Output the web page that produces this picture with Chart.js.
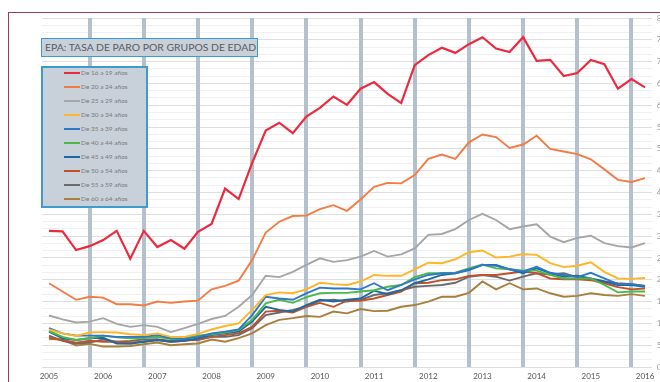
<!DOCTYPE html>
<html lang="es">
<head>
<meta charset="UTF-8">
<title>EPA: tasa de paro por grupos de edad</title>
<script src="https://cdn.jsdelivr.net/npm/chart.js"></script>
<style>
  html, body { margin: 0; padding: 0; overflow: hidden; background: #fff; }
  body { width: 660px; height: 382px; position: relative; font-family: Lato, "Open Sans", sans-serif; }
  #frame {
    position: absolute; left: 8px; top: 12px; width: 700px; height: 400px;
    border-top: 1.5px solid #9a3c5c; border-left: 1.5px solid #9a3c5c;
  }
  #wrap { position: absolute; left: 0; top: 0; width: 690px; height: 382px; }
  .box { position: absolute; background: #c8d0da; border: 1.5px solid #3d9bd0; box-sizing: border-box; }
  #title {
    left: 41px; top: 38px; width: 217px; height: 19px;
    font-size: 10.4px; color: #5a5a5a; line-height: 16px; padding-left: 3px; white-space: nowrap;
  }
  #legend { left: 41px; top: 66px; width: 107px; height: 142px; border-width: 2px; }
  .item { position: absolute; left: 0; width: 100px; height: 10px; font-size: 6.5px; color: #7a7a7a; line-height: 10px; white-space: nowrap; }
  .item i { position: absolute; left: 21px; top: 4px; width: 16px; height: 2px; }
  .item span { position: absolute; left: 38px; top: 0; }
</style>
</head>
<body>
  <div id="frame"></div>
  <div id="wrap"><canvas id="chart" width="690" height="382"></canvas></div>
  <div id="title" class="box">EPA: TASA DE PARO POR GRUPOS DE EDAD</div>
  <div id="legend" class="box"></div>

<script>
// Trimestres 2005 T1 .. 2016 T1
const years = ['2005', '2006', '2007', '2008', '2009', '2010', '2011', '2012', '2013', '2014', '2015', '2016'];
const quarterNames = ['T1', 'T2', 'T3', 'T4'];

const groupNames = [
  'De 16 a 19 años', 'De 20 a 24 años', 'De 25 a 29 años', 'De 30 a 34 años', 'De 35 a 39 años',
  'De 40 a 44 años', 'De 45 a 49 años', 'De 50 a 54 años', 'De 55 a 59 años', 'De 60 a 64 años'
];
const groupColors = [
  '#ec2a3f', '#f47c43', '#a6a6a6', '#ffb526', '#2f78c8',
  '#4cb84a', '#1e6aa0', '#c0512b', '#6b6b6b', '#a7803b'
];

// tasa de paro (%)
const paro16a19 = [31.2,31.1,26.8,27.7,29.1,31.2,24.8,31.2,27.5,29.1,27.1,31.0,32.8,40.9,38.5,46.8,54.2,56.0,53.6,57.4,59.4,62.0,60.1,63.8,65.3,62.6,60.5,69.2,71.5,73.2,72.0,74.0,75.6,73.0,72.2,75.6,70.2,70.4,66.7,67.4,70.4,69.4,63.8,66.0,64.1];
const paro20a24 = [19.2,17.3,15.4,16.1,15.9,14.4,14.4,14.1,15.0,14.7,15.0,15.2,17.8,18.6,19.8,24.5,30.8,33.3,34.6,34.7,36.2,37.1,35.8,38.4,41.3,42.2,42.1,44.0,47.7,48.7,47.7,51.5,53.3,52.7,50.2,51.0,53.0,50.0,49.4,48.8,47.6,45.3,42.9,42.4,43.3];
const paro25a29 = [11.8,10.9,10.2,10.4,11.2,9.9,9.2,9.6,9.2,8.0,8.9,9.9,11.0,11.7,13.8,16.5,20.9,20.6,21.8,23.4,24.9,24.1,24.5,25.3,26.6,25.3,25.8,27.2,30.3,30.5,31.6,33.7,35.1,33.7,31.6,32.2,32.7,29.9,28.6,29.6,30.1,28.4,27.7,27.4,28.4];
const paro30a34 = [8.6,7.7,7.1,7.9,8.0,7.9,7.5,7.3,7.7,6.9,6.9,7.6,8.6,9.4,10.0,13.1,16.5,17.1,16.9,17.8,19.3,19.0,18.8,19.6,21.1,20.9,20.9,22.4,23.9,23.8,24.7,26.3,26.7,25.1,25.3,25.9,25.7,23.8,22.9,23.2,24.0,21.8,20.3,20.2,20.4];
const paro35a39 = [8.9,7.7,7.2,7.2,7.2,6.9,6.9,6.9,7.3,6.6,6.4,6.9,7.7,8.1,8.6,11.9,16.1,15.7,15.4,16.9,18.2,18.0,18.0,17.8,19.2,17.6,18.8,20.1,21.1,21.5,21.5,22.4,23.4,23.2,22.4,21.9,23.0,21.6,21.1,20.6,21.6,20.3,19.0,19.0,18.6];
const paro40a44 = [8.3,6.9,6.2,6.6,7.2,6.8,6.6,6.7,6.9,6.4,6.6,7.2,7.5,7.9,8.5,10.8,14.6,15.4,14.7,16.0,16.9,17.0,17.0,17.3,17.6,18.4,18.8,20.6,21.5,21.5,21.6,22.6,23.5,22.6,22.4,22.1,22.1,21.1,20.3,20.3,20.3,18.8,17.1,17.3,17.3];
const paro45a49 = [8.1,6.6,6.2,6.6,6.7,5.4,5.3,5.8,6.2,5.8,6.0,6.6,7.3,7.7,8.1,10.4,13.8,13.1,12.7,14.2,15.4,15.0,15.4,15.7,17.5,16.7,17.6,19.2,20.1,21.1,21.5,22.2,23.4,23.4,22.4,21.5,22.6,21.5,20.7,20.9,20.3,19.6,18.8,18.8,18.4];
const paro50a54 = [6.7,6.2,5.6,6.0,5.8,5.8,5.6,5.8,6.2,5.8,6.0,6.3,6.9,7.3,7.7,9.2,12.7,12.9,12.5,13.8,14.7,13.8,15.2,15.2,15.7,16.5,17.3,19.2,19.3,19.9,20.1,20.9,21.1,21.1,21.5,21.9,21.5,20.3,20.1,20.1,19.9,19.2,18.3,17.8,18.0];
const paro55a59 = [7.2,6.0,5.3,5.6,6.3,5.8,6.0,6.3,6.4,6.0,6.2,6.2,6.9,6.9,7.3,8.9,11.9,12.5,13.1,13.8,15.2,15.4,15.0,15.4,16.5,16.9,17.6,18.4,18.6,18.8,19.3,20.7,21.1,20.7,19.8,20.7,21.5,21.2,21.5,20.6,20.1,19.6,19.2,19.0,18.6];
const paro60a64 = [6.4,6.3,4.9,5.3,4.7,4.7,4.8,5.2,5.6,5.0,5.2,5.4,6.3,5.8,6.6,7.7,9.6,10.8,11.2,11.7,11.5,12.7,12.3,13.3,12.8,12.9,13.8,14.2,15.0,16.1,16.1,17.0,19.6,17.8,19.2,17.8,18.0,16.9,16.1,16.3,16.9,16.5,16.3,16.7,16.3];

const series = [paro16a19, paro20a24, paro25a29, paro30a34, paro35a39,
                paro40a44, paro45a49, paro50a54, paro55a59, paro60a64];

const labels = [];
years.forEach(y => quarterNames.forEach(q => labels.push(y + ' ' + q)));
labels.length = paro16a19.length;

const datasets = series.map((data, i) => ({
  label: groupNames[i],
  data,
  borderColor: groupColors[i],
  backgroundColor: groupColors[i],
  borderWidth: i === 0 ? 2.2 : 1.9,
  pointRadius: 0,
  tension: 0,
  fill: false
}));

// leyenda en la caja gris
const legendBox = document.getElementById('legend');
datasets.forEach((ds, k) => {
  const row = document.createElement('div');
  row.className = 'item';
  row.style.top = (k * 14) + 'px';
  row.innerHTML = '<i style="background:' + ds.borderColor + '"></i><span>' + ds.label + '</span>';
  legendBox.appendChild(row);
});

new Chart(document.getElementById('chart'), {
  type: 'line',
  data: { labels, datasets },
  options: {
    responsive: false,
    animation: false,
    layout: { padding: { left: 42.2, top: 18, right: 0, bottom: 0 } },
    plugins: { legend: { display: false }, tooltip: { enabled: false } },
    scales: {
      x: {
        offset: true,
        afterFit: s => { s.height = 15; },
        border: { display: false },
        // barras grises en el cuarto trimestre de cada año
        grid: {
          z: -1,
          drawTicks: false,
          color: c => c.index % 4 === 3 ? '#b4c0cb' : 'rgba(0,0,0,0)',
          lineWidth: c => c.index % 4 === 3 ? 4 : 1
        },
        ticks: {
          autoSkip: false,
          maxRotation: 0,
          padding: 5,
          font: { family: 'Lato', size: 8 },
          color: '#555',
          callback: (v, i) => i % 4 === 0 ? labels[i].slice(0, 4) : ''
        }
      },
      y: {
        position: 'right',
        min: 0,
        max: 80,
        afterBuildTicks: s => {
          s.ticks = [];
          for (let k = 0; k <= 48; k++) s.ticks.push({ value: k * 5 / 3 });
        },
        afterFit: s => { s.width = 38.2; },
        border: { display: false },
        grid: {
          z: -2,
          drawTicks: false,
          color: c => c.index % 3 === 0 ? '#dedede' : '#f0f0f0'
        },
        ticks: {
          autoSkip: false,
          padding: 5,
          font: { family: 'Lato', size: 8 },
          color: '#999',
          callback: (v, i) => i % 3 === 0 ? Math.round(v) + '%' : ''
        }
      }
    }
  }
});
</script>
</body>
</html>
